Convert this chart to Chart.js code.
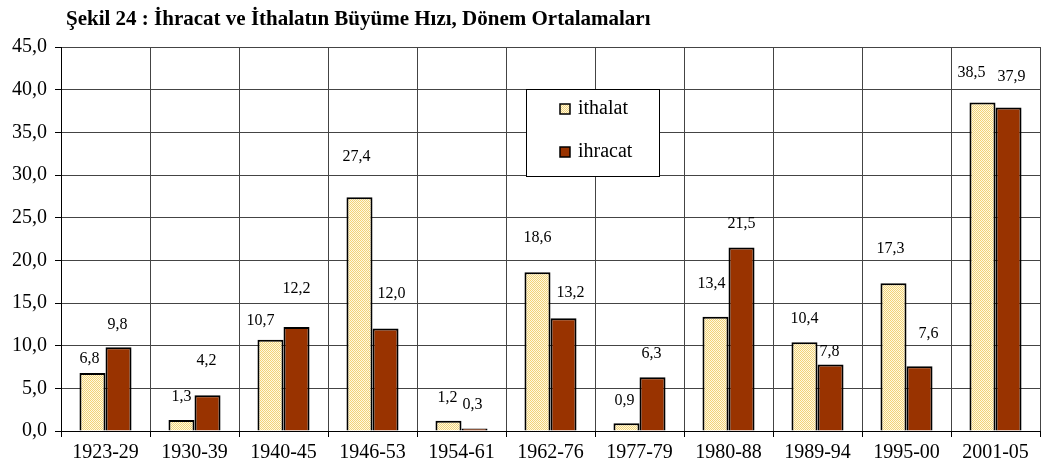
<!DOCTYPE html>
<html>
<head>
<meta charset="utf-8">
<script src="https://cdn.jsdelivr.net/npm/chart.js@4.4.1/dist/chart.umd.min.js"></script>
<style>
    body { margin: 0; background: #ffffff; }
    #wrap { width: 1042px; height: 470px; }
</style>
</head>
<body>
<div id="wrap"><canvas id="growthChart" width="1042" height="470"></canvas></div>
<script>
// values (% growth, period averages)
const categories = ['1923-29', '1930-39', '1940-45', '1946-53', '1954-61', '1962-76', '1977-79', '1980-88', '1989-94', '1995-00', '2001-05'];
const ithalat = [6.8, 1.3, 10.7, 27.4, 1.2, 18.6, 0.9, 13.4, 10.4, 17.3, 38.5];
const ihracat = [9.8, 4.2, 12.2, 12.0, 0.3, 13.2, 6.3, 21.5, 7.8, 7.6, 37.9];
const seriesNames = ['ithalat', 'ihracat'];
const yMin = 0, yMax = 45, yStep = 5;

const titleText = 'Şekil 24 : İhracat ve İthalatın Büyüme Hızı, Dönem Ortalamaları';
const serif = "'Liberation Serif', 'Times New Roman', serif";

// the value labels in the original are nudged by hand, so keep the nudges (px) here
const labelNudge = [
    { dx: [-3, 0, -10, -3, -1, 0, -2, -4, 0, -3, -11], dy: [-14, -23, -19, -40, -23, -34, -23, -33, -23, -35, -30] },
    { dx: [-1, -1, 0, 6, -2, 7, -1, 0, -1, 9, 3], dy: [-23, -34, -38, -35, -24, -26, -23, -24, -13, -32, -31] }
];

const fmt = v => v.toFixed(1).replace('.', ',');

// dotted pale yellow fill like the Excel pattern
function makePattern() {
    const c = document.createElement('canvas');
    c.width = 2; c.height = 2;
    const g = c.getContext('2d');
    g.fillStyle = '#fffae0';
    g.fillRect(0, 0, 2, 2);
    g.fillStyle = '#f2d27a';
    g.fillRect(0, 0, 1, 1);
    g.fillRect(1, 1, 1, 1);
    return g.createPattern(c, 'repeat');
}

const ctx = document.getElementById('growthChart').getContext('2d');
const ithalatFill = makePattern();

const titlePlugin = {
    id: 'titleText',
    afterDraw(chart) {
        const c = chart.ctx;
        c.save();
        c.font = 'bold 21px ' + serif;
        c.fillStyle = '#000';
        c.textAlign = 'left';
        c.textBaseline = 'middle';
        c.fillText(titleText, 66, 20);
        c.restore();
    }
};

const valueLabels = {
    id: 'valueLabels',
    afterDatasetsDraw(chart) {
        const c = chart.ctx;
        c.save();
        c.font = '16px ' + serif;
        c.fillStyle = '#000';
        c.textAlign = 'center';
        c.textBaseline = 'middle';
        chart.data.datasets.forEach((ds, di) => {
            const meta = chart.getDatasetMeta(di);
            meta.data.forEach((bar, i) => {
                const n = labelNudge[di];
                c.fillText(fmt(ds.data[i]), bar.x + n.dx[i], bar.y + n.dy[i]);
            });
        });
        c.restore();
    }
};

// legend box floating inside the plot
const boxLegend = {
    id: 'boxLegend',
    afterDraw(chart) {
        const c = chart.ctx;
        const x = 526, y = 89, w = 133, h = 87;
        c.save();
        c.fillStyle = '#fff';
        c.fillRect(x, y, w, h);
        c.strokeStyle = '#000';
        c.lineWidth = 1;
        c.strokeRect(x + 0.5, y + 0.5, w, h);
        c.font = '20px ' + serif;
        c.textBaseline = 'middle';
        c.textAlign = 'left';
        chart.data.datasets.forEach((ds, i) => {
            const cy = 109 + i * 43;
            c.fillStyle = ds.backgroundColor;
            c.fillRect(560, cy - 5, 10, 10);
            c.lineWidth = 1.5;
            c.strokeRect(560, cy - 5, 10, 10);
            c.fillStyle = '#000';
            c.fillText(ds.label, 578, cy);
        });
        c.restore();
    }
};

new Chart(ctx, {
    type: 'bar',
    data: {
        labels: categories,
        datasets: [
            {
                label: seriesNames[0],
                data: ithalat,
                backgroundColor: ithalatFill,
                borderColor: '#000',
                borderWidth: 2,
                borderSkipped: 'bottom'
            },
            {
                label: seriesNames[1],
                data: ihracat,
                backgroundColor: '#993300',
                borderColor: '#000',
                borderWidth: 2,
                borderSkipped: 'bottom'
            }
        ]
    },
    options: {
        responsive: false,
        animation: false,
        devicePixelRatio: 1,
        layout: { padding: { top: 47, right: 2, left: 0, bottom: 0 } },
        datasets: {
            bar: { categoryPercentage: 0.585, barPercentage: 1.0 }
        },
        scales: {
            x: {
                offset: true,
                grid: {
                    offset: true,
                    color: '#444',
                    lineWidth: 1,
                    tickLength: 6,
                    tickColor: '#000'
                },
                border: { color: '#000', width: 1 },
                ticks: {
                    color: '#000',
                    font: { family: serif, size: 20 },
                    padding: 4,
                    maxRotation: 0
                },
                afterFit(scale) { scale.height = 39; }
            },
            y: {
                min: yMin,
                max: yMax,
                grid: {
                    color: '#444',
                    lineWidth: 1,
                    tickLength: 6,
                    tickColor: '#000'
                },
                border: { color: '#000', width: 1 },
                ticks: {
                    stepSize: yStep,
                    color: '#000',
                    font: { family: serif, size: 20 },
                    padding: 8,
                    callback: v => fmt(v)
                },
                afterFit(scale) { scale.width = 61; }
            }
        },
        plugins: {
            legend: { display: false },
            title: { display: false },
            tooltip: { enabled: false }
        }
    },
    plugins: [valueLabels, boxLegend, titlePlugin]
});
</script>
</body>
</html>
